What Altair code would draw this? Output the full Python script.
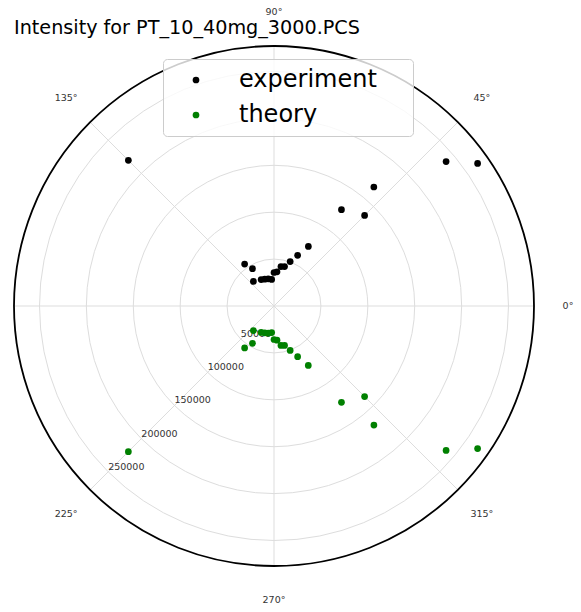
import math
import altair as alt
import pandas as pd

# ---- data ----
exp_angle = [35, 40, 50, 45, 55, 60, 65, 70, 75, 80, 85, 90, 95, 102, 109, 116, 130, 120, 125, 135]
exp_r = [265000, 239500, 165600, 136600, 125400, 73300, 59600, 50400, 43500, 42700,
         36600, 35700, 28400, 29600, 30200, 31300, 34200, 45900, 54600, 219600]
th_angle = [-35, -40, -50, -45, -55, -60, -65, -70, -75, -80, -85, -90, -95, -102, -109, -116, -130, -120, -125, -135]
th_r = [265000, 239500, 165700, 136600, 125400, 73100, 59600, 50400, 43500, 42700,
        36600, 35700, 28400, 29600, 30200, 31300, 34200, 45900, 54600, 219600]

grid_r = [50000, 100000, 150000, 200000, 250000]
grid_labels = ["50000", "100000", "150000", "200000", "250000"]
spoke_angles = [0, 45, 90, 135, 180, 225, 270, 315]
label_angles = [0, 45, 90, 135, 225, 270, 315]
angle_labels = ["0°", "45°", "90°", "135°", "225°", "270°", "315°"]
title_text = "Intensity for PT_10_40mg_3000.PCS"

RMAX = 277200
SIZE = 520
LABEL_R = RMAX * 294 / 260
RLABEL_ANGLE = 225
FONT = "DejaVu Sans"

pts = pd.DataFrame({
    "angle": exp_angle + th_angle,
    "r": exp_r + th_r,
    "series": ["experiment"] * len(exp_angle) + ["theory"] * len(th_angle),
})
grid = pd.DataFrame({"r": grid_r, "label": grid_labels})
spokes = pd.DataFrame({"angle": spoke_angles})
alabels = pd.DataFrame({"angle": label_angles, "label": angle_labels})
outer = pd.DataFrame({"r": [RMAX]})
ttl = pd.DataFrame({"t": [title_text]})

xs = alt.Scale(domain=[-RMAX, RMAX], nice=False, zero=False)
ys = alt.Scale(domain=[-RMAX, RMAX], nice=False, zero=False)
rs = alt.Scale(type="linear", domain=[0, RMAX], range=[0, SIZE / 2], zero=True, nice=False)
TWO_PI = 2 * math.pi

grid_circles = alt.Chart(grid).mark_arc(
    theta=0, theta2=TWO_PI, fillOpacity=0, stroke="#dddddd", strokeWidth=1
).encode(radius=alt.Radius("r:Q", scale=rs, stack=False))

spoke_lines = alt.Chart(spokes).transform_calculate(
    x0="0", y0="0",
    x1=f"{RMAX}*cos(datum.angle*PI/180)",
    y1=f"{RMAX}*sin(datum.angle*PI/180)",
).mark_rule(color="#dddddd", strokeWidth=1).encode(
    x=alt.X("x0:Q", scale=xs, axis=None),
    y=alt.Y("y0:Q", scale=ys, axis=None),
    x2="x1:Q", y2="y1:Q",
)

outer_circle = alt.Chart(outer).mark_arc(
    theta=0, theta2=TWO_PI, fillOpacity=0, stroke="black", strokeWidth=1.8
).encode(radius=alt.Radius("r:Q", scale=rs, stack=False))

angle_text = alt.Chart(alabels).transform_calculate(
    x=f"{LABEL_R}*cos(datum.angle*PI/180)",
    y=f"{LABEL_R}*sin(datum.angle*PI/180)",
).mark_text(font=FONT, fontSize=9.5, color="#333333", align="center", baseline="middle").encode(
    x=alt.X("x:Q", scale=xs, axis=None),
    y=alt.Y("y:Q", scale=ys, axis=None),
    text="label:N",
)

r_text = alt.Chart(grid).transform_calculate(
    x=f"datum.r*cos({RLABEL_ANGLE}*PI/180)",
    y=f"datum.r*sin({RLABEL_ANGLE}*PI/180)",
).mark_text(font=FONT, fontSize=9.5, color="#333333", align="left", baseline="bottom").encode(
    x=alt.X("x:Q", scale=xs, axis=None),
    y=alt.Y("y:Q", scale=ys, axis=None),
    text="label:N",
)

points = alt.Chart(pts).transform_calculate(
    x="datum.r*cos(datum.angle*PI/180)",
    y="datum.r*sin(datum.angle*PI/180)",
).mark_point(filled=True, shape="circle", size=45, opacity=1).encode(
    x=alt.X("x:Q", scale=xs, axis=None),
    y=alt.Y("y:Q", scale=ys, axis=None),
    color=alt.Color(
        "series:N",
        scale=alt.Scale(domain=["experiment", "theory"], range=["#000000", "#008000"]),
        legend=alt.Legend(
            title="\u00a0", titleOrient="right", titlePadding=27, titleFontSize=4,
            orient="none", legendX=149, legendY=13,
            labelFontSize=24, labelFont=FONT, labelColor="#000000", labelLimit=400,
            symbolType="circle", symbolSize=45, symbolStrokeWidth=0, symbolOpacity=1,
            padding=9, rowPadding=11, labelOffset=31, symbolOffset=12,
            cornerRadius=4, strokeColor="#cccccc", fillColor="rgba(255,255,255,0.8)",
        ),
    ),
)

title = alt.Chart(ttl).mark_text(
    font=FONT, fontSize=19.2, color="#000000", align="left", baseline="alphabetic"
).encode(x=alt.value(0), y=alt.value(-12), text="t:N")

chart = alt.layer(
    grid_circles, spoke_lines, outer_circle, angle_text, r_text, points, title
).properties(
    width=SIZE, height=SIZE,
    autosize=alt.AutoSizeParams(type="none"),
    padding={"left": 14, "top": 46, "right": 47, "bottom": 46},
).configure_view(stroke=None)

chart.save("out.html", embed_options={"renderer": "svg", "actions": False})
